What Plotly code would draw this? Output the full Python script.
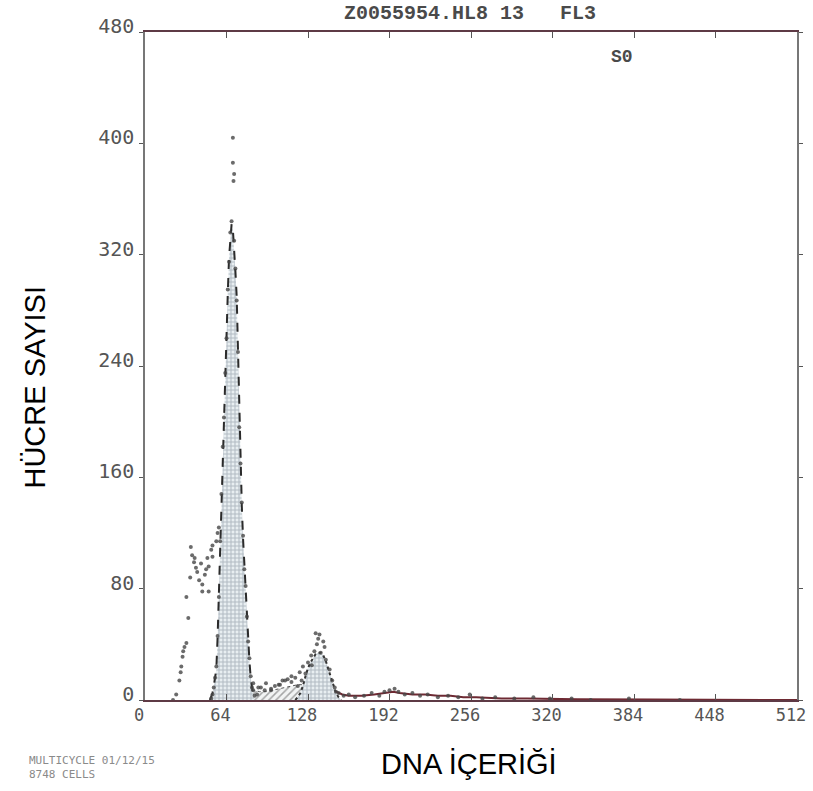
import plotly.graph_objects as go

# ---------------- data ----------------
x_tick_vals = [0, 64, 128, 192, 256, 320, 384, 448, 512]
y_tick_vals = [0, 80, 160, 240, 320, 400, 480]

# raw histogram points (channel, count)
raw_channels = [
    22, 24.5, 27, 28, 28.5, 29.5, 30, 31, 32.5, 34, 32.5, 35.5, 37, 38.5, 40, 42.5, 45, 45,
    50, 48, 50, 49, 53, 52, 53, 56, 57, 58, 36, 39, 41, 44, 47,
    52, 53, 54, 55, 56, 57, 58, 59, 60, 61, 62, 63, 64, 65, 66, 67, 68, 69, 69, 70, 69.5,
    70, 71, 72, 73, 74, 75, 76, 77, 78, 79, 80, 81, 82, 83, 84, 85, 86, 88, 91, 95, 99,
    105, 110, 115,
    85, 89, 94, 99, 102, 106, 108, 112, 115, 118, 121.5, 124, 126, 128, 130.5, 133, 134,
    137, 140, 141, 138, 142, 145, 147, 149, 150, 120, 123, 131, 135, 136,
    152, 156, 160, 165, 172, 178, 184, 188, 192, 196, 199, 204, 210, 216, 222, 230, 238,
    246, 255, 265, 275, 290, 305, 318, 335, 350, 380, 420,
]
raw_counts = [
    0, 4, 14, 20, 24, 31, 35, 38, 41, 59, 74, 88, 104, 99, 95, 86, 83, 78,
    78, 94, 96, 102, 103, 108, 111, 114, 120, 124, 110, 102, 92, 98, 90,
    1, 4, 9, 16, 24, 46, 74, 114, 148, 182, 203, 235, 260, 295, 315, 336, 344, 404, 386, 378, 373,
    330, 310, 287, 250, 196, 170, 142, 118, 94, 82, 60, 42, 30, 17, 9, 7, 3, 4, 9, 12, 7,
    11, 14, 17,
    12, 9, 7, 8, 10, 11, 14, 15, 13, 16, 20, 24, 19, 27, 32, 35, 48,
    47, 42, 38, 34, 29, 22, 14, 9, 6, 10, 14, 25, 40, 44,
    5, 3, 4, 2, 3, 5, 3, 6, 7, 8, 6, 4, 5, 3, 4, 2, 3,
    2, 4, 1, 2, 1, 2, 1, 1, 0, 1, 0,
]

# fitted G1 peak
g1_channels = [51, 52, 53, 54, 55, 56, 57, 58, 59, 60, 61, 62, 63, 64, 65, 66, 67, 68,
               69, 70, 71, 72, 73, 74, 75, 76, 77, 78, 79, 80, 81, 82, 83, 84, 85, 86]
g1_fit = [0, 2, 5, 10, 15, 22, 45, 76, 112, 150, 180, 205, 232, 262, 292, 318, 334, 342,
          338, 326, 308, 290, 248, 200, 168, 140, 116, 96, 80, 62, 44, 28, 16, 8, 3, 0]

# fitted G2 peak
g2_channels = [118, 120, 122, 124, 126, 128, 130, 132, 134, 136, 138, 140, 142, 144, 146,
               148, 150, 152, 154]
g2_fit = [0, 2, 5, 10, 17, 23, 27, 30, 33, 34, 34, 32, 28, 22, 16, 10, 5, 2, 0]

# fitted S phase
s_channels = [62, 66, 70, 75, 80, 85, 90, 95, 100, 105, 110, 115, 120, 125, 128, 131, 134, 136]
s_fit = [0, 2, 4, 6, 7, 7, 6, 6, 7, 8, 9, 10, 11, 11, 9, 5, 2, 0]

# fitted tail (aggregates/debris)
tail_channels = [150, 155, 160, 170, 180, 190, 195, 200, 210, 220, 230, 240, 250, 260,
                 280, 300, 340, 400, 512]
tail_fit = [6, 4, 3, 3, 4, 5, 6, 5, 4, 4, 3, 3, 2, 2, 1, 1, 0.5, 0.3, 0]

# ---------------- figure ----------------
fig = go.Figure()

fig.add_trace(go.Scatter(
    x=s_channels, y=s_fit, mode="lines", fill="tozeroy",
    line=dict(color="#555555", width=1, dash="dot"),
    fillcolor="rgba(255,255,255,1)",
    fillpattern=dict(shape="/", fgcolor="#555555", bgcolor="#f2f4f4", size=5, solidity=0.3),
    hoverinfo="skip", showlegend=False,
))

grid_pattern = dict(shape="+", fgcolor="#7b8994", bgcolor="#e8eef1", size=4, solidity=0.45)

fig.add_trace(go.Scatter(
    x=g1_channels, y=g1_fit, mode="lines", fill="tozeroy",
    line=dict(color="#2b2b2b", width=2, dash="dash"),
    fillcolor="#e9eff2", fillpattern=grid_pattern, showlegend=False,
))

fig.add_trace(go.Scatter(
    x=g2_channels, y=g2_fit, mode="lines", fill="tozeroy",
    line=dict(color="#333333", width=2, dash="dot"),
    fillcolor="#e9eff2", fillpattern=grid_pattern, showlegend=False,
))

fig.add_trace(go.Scatter(
    x=tail_channels, y=tail_fit, mode="lines",
    line=dict(color="#6e2a33", width=2),
    showlegend=False,
))

fig.add_trace(go.Scatter(
    x=raw_channels, y=raw_counts, mode="markers",
    marker=dict(color="rgba(70,70,70,0.8)", size=4, symbol="circle"),
    showlegend=False,
))

fig.update_xaxes(
    range=[0, 512], tickvals=x_tick_vals, ticktext=[str(v) for v in x_tick_vals],
    showline=True, linecolor="#5e3a45", linewidth=2, mirror="ticks",
    ticks="inside", ticklen=6, tickcolor="#555555", tickwidth=1,
    showgrid=False, zeroline=False,
    tickfont=dict(family="DejaVu Sans Mono", size=17, color="#555555"),
    ticklabelshift=-6, ticklabeloverflow="allow", ticklabelstandoff=-1,
)
fig.update_yaxes(
    range=[0, 480], tickvals=y_tick_vals, ticktext=[str(v) for v in y_tick_vals],
    showline=True, linecolor="#777777", linewidth=1.5, mirror="ticks",
    ticks="outside", ticklen=4, tickcolor="#555555", tickwidth=1,
    showgrid=False, zeroline=False,
    tickfont=dict(family="DejaVu Sans Mono", size=20, color="#555555"),
    ticklabelshift=-6, ticklabelstandoff=1,
)

annots = [
    dict(text="<b>Z0055954.HL8 13   FL3</b>", x=0.4985, y=1.027, xref="paper", yref="paper",
         xanchor="center", yanchor="middle", showarrow=False,
         font=dict(family="Liberation Mono", size=20, color="#4a4a4a")),
    dict(text="<b>S0</b>", x=0.731, y=0.9626, xref="paper", yref="paper",
         xanchor="center", yanchor="middle", showarrow=False,
         font=dict(family="Liberation Mono", size=18, color="#4a4a4a")),
    dict(text="MULTICYCLE 01/12/15<br>8748 CELLS", x=-0.1815, y=-0.0778, xref="paper",
         yref="paper", xanchor="left", yanchor="top", align="left", showarrow=False,
         font=dict(family="DejaVu Sans Mono", size=11, color="#8a8a8a")),
    dict(text="HÜCRE SAYISI", x=-0.1694, y=0.4686, xref="paper", yref="paper",
         xanchor="center", yanchor="middle", textangle=-90, showarrow=False,
         font=dict(family="Liberation Sans", size=29, color="#000000")),
    dict(text="DNA İÇERİĞİ", x=0.4962, y=-0.0958, xref="paper", yref="paper",
         xanchor="center", yanchor="middle", showarrow=False,
         font=dict(family="Liberation Sans", size=29, color="#000000")),
]

fig.update_layout(
    width=813, height=791,
    margin=dict(l=145, r=7, t=32, b=91),
    paper_bgcolor="white", plot_bgcolor="white",
    annotations=annots, showlegend=False,
)

fig.write_html("out.html")
